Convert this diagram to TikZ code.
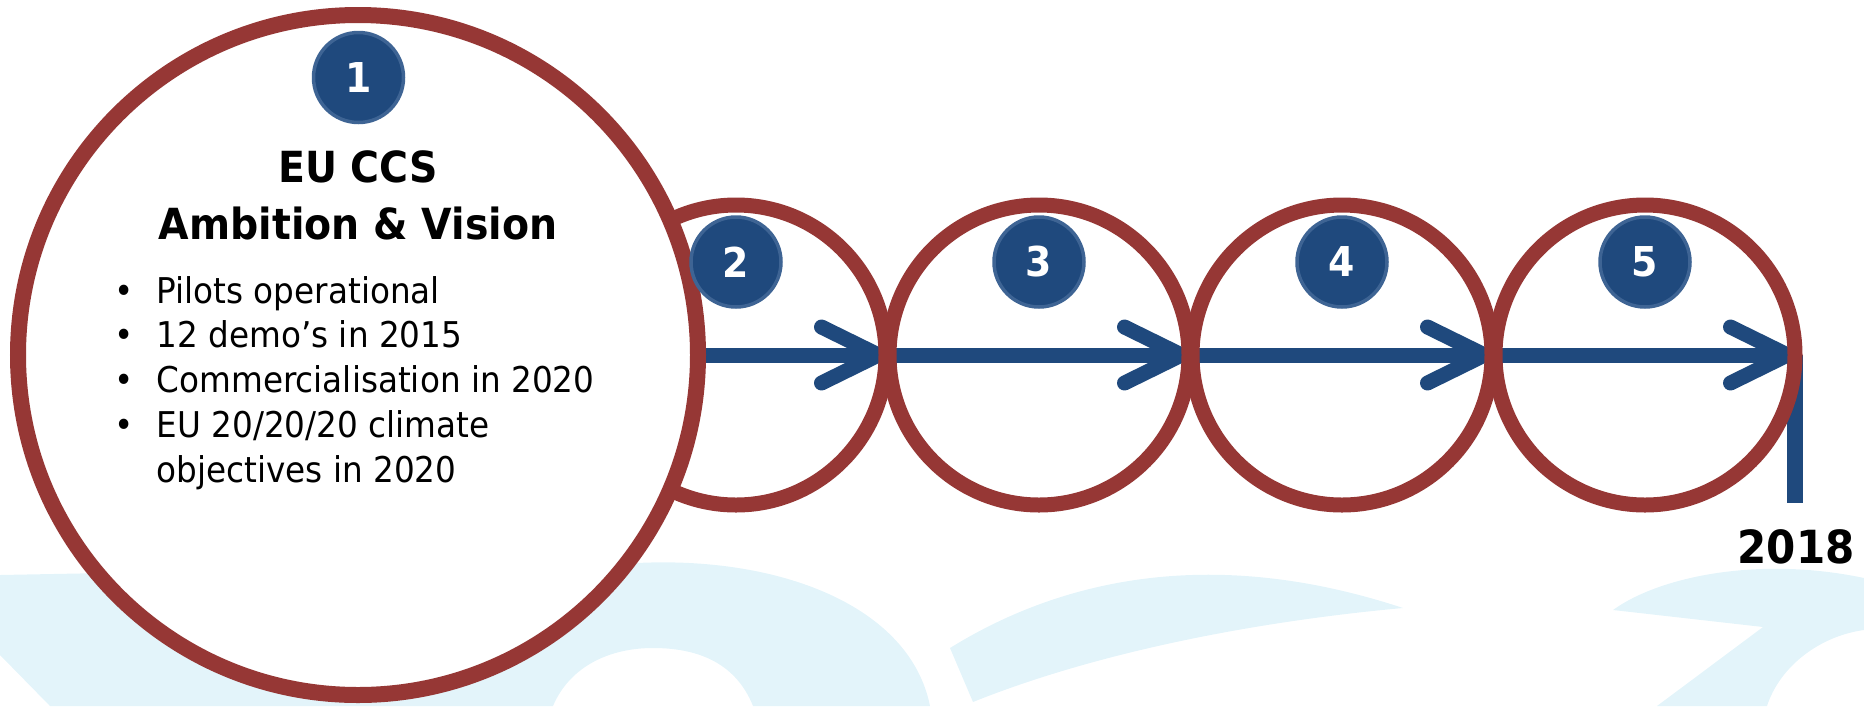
\documentclass[tikz,border=0pt]{standalone}
\usepackage{fontspec}
\setmainfont{DejaVu Sans}[FakeStretch=0.92]
\usetikzlibrary{arrows.meta}
\definecolor{ringred}{RGB}{150,55,53}
\definecolor{flowblue}{RGB}{31,73,125}
\definecolor{badgeedge}{RGB}{62,100,148}
\definecolor{wmcyan}{RGB}{227,244,250}
\pgfdeclarelayer{wm}
\pgfdeclarelayer{bg}
\pgfsetlayers{wm,bg,main}

\begin{document}
\begin{tikzpicture}[
        bigring/.style={draw=ringred, circle, fill=white, line width=0.16cm,
                        minimum size=6.8cm, inner sep=0pt, outer sep=0pt},
        ring/.style={draw=ringred, circle, line width=0.15cm,
                     minimum size=3.0cm, inner sep=0pt, outer sep=0pt},
        badge/.style={draw=badgeedge, circle, fill=flowblue, line width=0.035cm,
                      minimum size=0.9cm, inner sep=0pt, text=white,
                      font=\fontsize{11.7}{14}\selectfont\bfseries},
        flow/.style={draw=flowblue, line width=0.15cm,
                     -{Straight Barb[length=5.7mm, width=5.6mm, round]}},
        headtext/.style={font=\fontsize{12.2}{15}\selectfont\bfseries, anchor=base},
        bullettext/.style={font=\fontsize{10.1}{12}\selectfont, anchor=base west,
                           inner sep=0pt},
        wmark/.style={fill=wmcyan}]
    \useasboundingbox (0,0) rectangle (18.64,7.06);

    \begin{pgfonlayer}{wm}
        \fill[wmark] (0,1.31) -- (6.37,1.43) .. controls (7.8,1.5) and (9.1,1.0) .. (9.30,0)
            -- (7.53,0) .. controls (7.35,0.45) and (6.95,0.58) .. (6.53,0.58)
            .. controls (6.1,0.58) and (5.7,0.4) .. (5.53,0) -- (0.50,0) -- (0,0.51) -- cycle;
        \fill[wmark] (9.50,0.58) .. controls (10.5,1.2) and (12.0,1.65) .. (14.03,0.98)
            .. controls (12.6,0.85) and (11.0,0.55) .. (9.73,0.04) -- cycle;
        \fill[wmark] (16.13,0.96) .. controls (16.6,1.3) and (17.6,1.5) .. (18.64,1.28)
            -- (18.64,0.76) .. controls (18.2,0.7) and (17.8,0.4) .. (17.67,0)
            -- (16.57,0) -- (17.63,0.79) -- cycle;
    \end{pgfonlayer}

    \node[ring] (c2) at (7.36,3.51) {};
    \node[ring] (c3) at (10.39,3.51) {};
    \node[ring] (c4) at (13.42,3.51) {};
    \node[ring] (c5) at (16.45,3.51) {};
    \node[bigring] (c1) at (3.58,3.51) {};
    \coordinate (tick) at (17.95,2.03);

    \begin{pgfonlayer}{bg}
        \draw[flow] (c1.east) -- (c2.east);
        \draw[flow] (c2.east) -- (c3.east);
        \draw[flow] (c3.east) -- (c4.east);
        \draw[flow] (c4.east) -- (c5.east);
        \draw[flowblue, line width=0.16cm] (c5.east) -- (tick);
    \end{pgfonlayer}

    \node[badge] (n1) at (3.585,6.285) {1};
    \foreach \i in {2,...,5}
        \node[badge] (n\i) at (c\i |- 0,4.44) {\i};

    \node[headtext] (head1) at (3.58,5.24) {EU CCS};
    \node[headtext] (head2) at (3.58,4.67) {Ambition \& Vision};
    \foreach \txt [count=\i] in {Pilots operational, 12 demo’s in 2015,
                                Commercialisation in 2020, EU 20/20/20 climate} {
        \node[bullettext] (dot\i) at (1.14,{4.03-0.447*(\i-1)}) {•};
        \node[bullettext] (item\i) at (1.56,{4.03-0.447*(\i-1)}) {\txt};
    }
    \node[bullettext] (item5) at (1.56,2.24) {objectives in 2020};

    \node[font=\fontsize{13}{15}\selectfont\bfseries, anchor=base] (year) at (17.96,1.43) {2018};
\end{tikzpicture}
\end{document}
